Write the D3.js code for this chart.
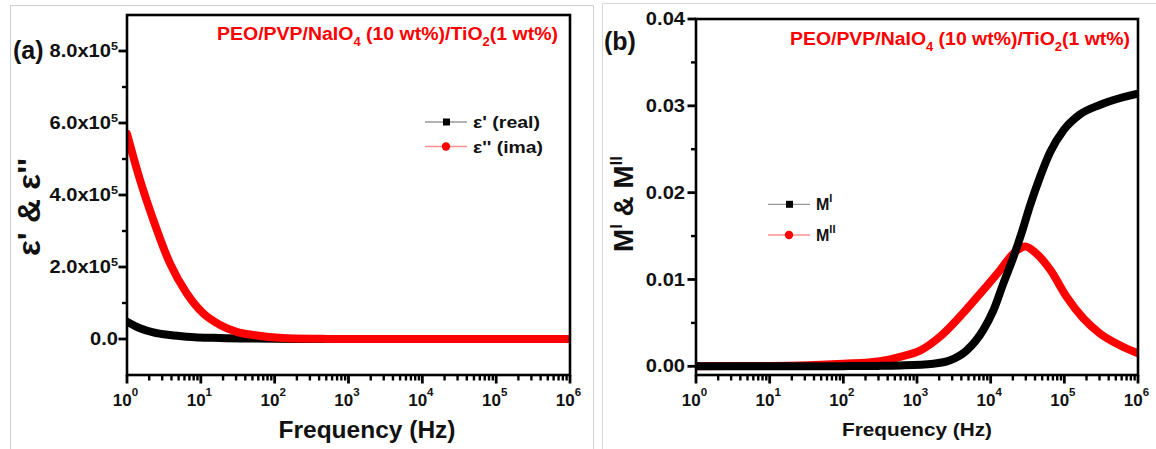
<!DOCTYPE html>
<html><head><meta charset="utf-8">
<script src="https://cdn.jsdelivr.net/npm/d3@7/dist/d3.min.js"></script>
<style>
body{margin:0;background:#fff;}
svg{display:block;}
svg text{font-family:"Liberation Sans",Arial,sans-serif;}
</style></head>
<body><svg id="c" width="1156" height="449"></svg>
<script>
// ---------- data ----------
const epsImagFreq = [1, 1.5, 2.27, 3.82, 6.43, 10.8, 18.2, 30.6, 51.4, 145, 500, 1000, 1e4, 1e5, 1e6];
const epsImag     = [5.7e5, 4.42e5, 3.31e5, 2.1e5, 1.27e5, 7.1e4, 3.9e4, 2.0e4, 1.1e4, 2.0e3, 300, 0, 0, 0, 0];
const epsRealFreq = [1, 1.5, 2.27, 3.82, 6.43, 18.2, 51.4, 200, 1000, 1e4, 1e5, 1e6];
const epsReal     = [4.8e4, 3.0e4, 1.85e4, 1.1e4, 6.5e3, 2.8e3, 1.1e3, 200, 0, 0, 0, 0];

const mRealFreq = [1, 10, 100, 300, 589, 1660, 2818, 4677, 7943, 10965, 14791, 20417, 27542, 33884, 46774, 64565, 97724, 162181, 301995, 575440, 1e6];
const mReal     = [0, 0, 0.00002, 0.00005, 0.0001, 0.0003, 0.0007, 0.0018, 0.0042, 0.0065, 0.0095, 0.0126, 0.0159, 0.0184, 0.0218, 0.0247, 0.0272, 0.0290, 0.0301, 0.0309, 0.0314];
const mImagFreq = [1, 10, 100, 316, 589, 1096, 2042, 3802, 7244, 13490, 20417, 29512, 41687, 64565, 107152, 181970, 301995, 575440, 1e6];
const mImag     = [0.00002, 0.00005, 0.0003, 0.0006, 0.0011, 0.0018, 0.0034, 0.0057, 0.0084, 0.0111, 0.0130, 0.0138, 0.0130, 0.0111, 0.0080, 0.0055, 0.0038, 0.0024, 0.0015];

const xTickExps = [0, 1, 2, 3, 4, 5, 6];
const epsYTicks = [0, 2e5, 4e5, 6e5, 8e5];
const epsYMinor = [1e5, 3e5, 5e5, 7e5];
const mYTicks = [0, 0.01, 0.02, 0.03, 0.04];
const mYMinor = [0.005, 0.015, 0.025, 0.035];
const titleParts = [["PEO/PVP/NaIO", ""], ["4", "sub"], [" (10 wt%)/TiO", ""], ["2", "sub"], ["(1 wt%)", ""]];

// ---------- drawing ----------
const FONT = "'Liberation Sans', Arial, sans-serif";
const svg = d3.select("#c");
svg.append("path").attr("d","M10.5,449 V5.5 H593.5 V449").attr("fill","none").attr("stroke","#d0d0d0");
svg.append("path").attr("d","M602.5,449 V3.5 H1156").attr("fill","none").attr("stroke","#d8d8d8");

function sup(sel, base, exp, fs, dy) {
  sel.text(null);
  sel.append("tspan").text(base);
  sel.append("tspan").attr("dy", dy).attr("font-size", fs).text(exp);
}

function panel(o) {
  const g = svg.append("g");
  const x = d3.scaleLog().domain([1, 1e6]).range([o.left, o.right]);
  const y = d3.scaleLinear().domain(o.yDomain).range([o.bottom, o.top]);

  const majorX = xTickExps.map(e => Math.pow(10, e));
  const minorX = [];
  for (let e = 0; e < 6; e++) for (let k = 2; k <= 9; k++) minorX.push(k * Math.pow(10, e));

  // tick marks (positions from the scales)
  const tk = g.append("g").attr("stroke", "#000");
  tk.selectAll(".mx").data(minorX).join("line").attr("class", "mx")
    .attr("x1", d => x(d)).attr("x2", d => x(d)).attr("y1", o.bottom).attr("y2", o.bottom + 5.5).attr("stroke-width", 2.4);
  tk.selectAll(".Mx").data(majorX).join("line").attr("class", "Mx")
    .attr("x1", d => x(d)).attr("x2", d => x(d)).attr("y1", o.bottom).attr("y2", o.bottom + 8.5).attr("stroke-width", 2.8);
  tk.selectAll(".my").data(o.yMinor).join("line").attr("class", "my")
    .attr("x1", o.left - 5).attr("x2", o.left).attr("y1", d => y(d)).attr("y2", d => y(d)).attr("stroke-width", 2.4);
  tk.selectAll(".My").data(o.yTicks).join("line").attr("class", "My")
    .attr("x1", o.left - 8.5).attr("x2", o.left).attr("y1", d => y(d)).attr("y2", d => y(d)).attr("stroke-width", 2.8);

  // tick labels via d3 axes
  g.append("g").attr("transform", `translate(0,${o.bottom})`)
    .call(d3.axisBottom(x).tickValues(majorX).tickSize(8).tickPadding(11))
    .call(a => { a.attr("font-family", FONT); a.select(".domain").remove(); a.selectAll("line").remove(); })
    .call(a => a.selectAll("text").attr("font-size", 17).attr("font-weight", "bold").attr("fill", "#111")
       .attr("dx", -2)
       .each(function(d) { sup(d3.select(this), "10", String(Math.round(Math.log10(d))), 11.5, -10); }));

  g.append("g").attr("transform", `translate(${o.left},0)`)
    .call(d3.axisLeft(y).tickValues(o.yTicks).tickSize(8))
    .call(a => { a.attr("font-family", FONT); a.select(".domain").remove(); a.selectAll("line").remove(); })
    .call(a => a.selectAll("text").attr("font-size", 17.5).attr("font-weight", "bold").attr("fill", "#111")
       .attr("x", -o.yPad / 1.15).attr("transform", "scale(1.15,1)")
       .each(function(d) { o.yLabel(d3.select(this), d); }));

  const clipId = "clip" + o.id;
  svg.append("clipPath").attr("id", clipId).append("rect")
    .attr("x", o.left).attr("y", o.top).attr("width", o.right - o.left).attr("height", o.bottom - o.top);
  const line = d3.line().x(d => x(d[0])).y(d => y(d[1])).curve(d3.curveMonotoneX);
  o.series.forEach(s => {
    g.append("path").attr("clip-path", `url(#${clipId})`)
      .attr("d", line(s.f.map((f, i) => [f, s.v[i]])))
      .attr("fill", "none").attr("stroke", s.color).attr("stroke-width", 8)
      .attr("stroke-linecap", "round").attr("stroke-linejoin", "round");
  });

  g.append("rect").attr("x", o.left).attr("y", o.top).attr("width", o.right - o.left).attr("height", o.bottom - o.top)
    .attr("fill", "none").attr("stroke", "#000").attr("stroke-width", 2.6);

  const t = g.append("text").attr("x", o.titleX).attr("y", o.titleY).attr("fill", "#ff0000")
    .attr("font-size", 18).attr("font-weight", "bold")
    .attr("textLength", o.titleLen).attr("lengthAdjust", "spacingAndGlyphs");
  let shifted = false;
  titleParts.forEach(([s, kind]) => {
    const ts = t.append("tspan").text(s);
    if (kind === "sub") { ts.attr("dy", 6).attr("font-size", 12); shifted = true; }
    else if (shifted) { ts.attr("dy", -6); shifted = false; }
  });

  g.append("text").attr("x", o.letterX).attr("y", o.letterY).attr("font-size", 25).attr("font-weight", "bold")
    .attr("fill", "#111").text(o.letter);

  g.append("text").attr("x", o.xLabelX).attr("y", o.xLabelY).attr("text-anchor", "middle")
    .attr("font-size", o.xLabelSize).attr("font-weight", "bold").attr("fill", "#111")
    .attr("textLength", o.xLabelLen).attr("lengthAdjust", "spacingAndGlyphs").text("Frequency (Hz)");

  const yl = g.append("text").attr("transform", `translate(${o.yLabelX},${o.yLabelY}) rotate(-90)`)
    .attr("x", -o.yLabelLen / 2)
    .attr("font-size", o.yLabelSize).attr("font-weight", "bold").attr("fill", "#111")
    .attr("textLength", o.yLabelLen).attr("lengthAdjust", "spacingAndGlyphs");
  o.yTitle(yl);

  o.series.forEach((s, i) => {
    const ly = o.legY + i * o.legDy;
    g.append("line").attr("x1", o.legX).attr("x2", o.legX + 42).attr("y1", ly).attr("y2", ly)
      .attr("stroke", s.legLine).attr("stroke-width", 1.3);
    if (s.marker === "square")
      g.append("rect").attr("x", o.legX + 18).attr("y", ly - 3.5).attr("width", 7).attr("height", 7).attr("fill", "#000");
    else
      g.append("circle").attr("cx", o.legX + 21).attr("cy", ly).attr("r", 4.2).attr("fill", "#ff0000");
    const lt = g.append("text").attr("x", o.legX + 48).attr("y", ly + 6).attr("font-size", o.legSize)
      .attr("font-weight", "bold").attr("fill", "#111");
    if (s.legLen) lt.attr("textLength", s.legLen).attr("lengthAdjust", "spacingAndGlyphs");
    s.legText(lt);
  });
}

panel({
  id: "a", left: 127, right: 570, top: 15, bottom: 375, yPad: 9,
  yDomain: [-1e5, 9e5], yTicks: epsYTicks, yMinor: epsYMinor,
  yLabel: (sel, d) => {
    if (d === 0) sel.text("0.0");
    else sup(sel, (d / 1e5).toFixed(1) + "x10", "5", 11, -7);
  },
  series: [
    { f: epsRealFreq, v: epsReal, color: "#000", legLine: "#999", marker: "square", legLen: 67,
      legText: t => t.text("\u03b5' (real)") },
    { f: epsImagFreq, v: epsImag, color: "#ff0000", legLine: "#ff9090", marker: "circle", legLen: 70,
      legText: t => t.text("\u03b5'' (ima)") }
  ],
  titleX: 217, titleY: 40, titleLen: 341,
  letter: "(a)", letterX: 13, letterY: 59,
  xLabelX: 367, xLabelY: 438, xLabelSize: 23, xLabelLen: 177,
  yLabelX: 40, yLabelY: 207, yLabelSize: 32, yLabelLen: 98,
  yTitle: t => t.text("\u03b5' & \u03b5''"),
  legX: 425, legY: 122, legDy: 24.5, legSize: 17
});

panel({
  id: "b", left: 696, right: 1138, top: 19, bottom: 375, yPad: 11,
  yDomain: [-0.001, 0.04], yTicks: mYTicks, yMinor: mYMinor,
  yLabel: (sel, d) => sel.text(d.toFixed(2)),
  series: [
    { f: mImagFreq, v: mImag, color: "#ff0000", legLine: "#ff9090", marker: "circle",
      legText: t => { t.append("tspan").text("M"); t.append("tspan").attr("dy", -8).attr("font-size", 11).text("II"); } },
    { f: mRealFreq, v: mReal, color: "#000", legLine: "#999", marker: "square",
      legText: t => { t.append("tspan").text("M"); t.append("tspan").attr("dy", -8).attr("font-size", 11).text("I"); } }
  ],
  titleX: 790, titleY: 45, titleLen: 340,
  letter: "(b)", letterX: 604, letterY: 50,
  xLabelX: 917, xLabelY: 436, xLabelSize: 19, xLabelLen: 150,
  yLabelX: 633, yLabelY: 204, yLabelSize: 28, yLabelLen: 96,
  yTitle: t => { t.append("tspan").text("M"); t.append("tspan").attr("dy", -11).attr("font-size", 17).text("I");
                 t.append("tspan").attr("dy", 11).text(" & M"); t.append("tspan").attr("dy", -11).attr("font-size", 17).text("II"); },
  legX: 768, legY: 235, legDy: -30.7, legSize: 16
});
</script></body></html>
